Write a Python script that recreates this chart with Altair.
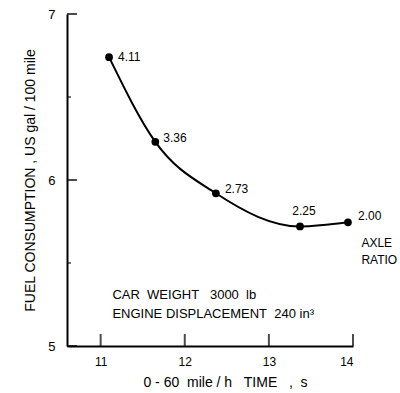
import altair as alt
import pandas as pd

# data
time_s = [11.1, 11.65, 12.37, 13.37, 13.94]
fuel = [6.74, 6.23, 5.92, 5.72, 5.745]
axle_ratio = ["4.11", "3.36", "2.73", "2.25", "2.00"]
label_dx = [9, 8, 9, 4, 10]
label_dy = [0, -4, -4, -15, -6]

x_ticks = [11, 12, 13, 14]
y_ticks = [5, 6, 7]
y_minor = [5.5, 6.5]

NB = "\u00a0"
note_text = ["CAR" + NB * 2 + "WEIGHT" + NB * 3 + "3000" + NB * 2 + "lb",
             "ENGINE DISPLACEMENT" + NB * 2 + "240 in³"]
note_x = [11.14, 11.14]
note_y = [5.31, 5.19]

axle_text = ["AXLE", "RATIO"]
axle_x = [14.1, 14.1]
axle_y = [5.62, 5.52]

x_title = "0 - 60" + NB * 2 + "mile / h" + NB * 3 + "TIME" + NB * 3 + "," + NB * 2 + "s"
y_title = "FUEL CONSUMPTION , US gal / 100 mile"

FONT = "Liberation Sans"
W, H = 286, 332

df = pd.DataFrame({"t": time_s, "f": fuel, "r": axle_ratio})
xs = alt.Scale(domain=[10.6, 14], nice=False, zero=False)
ys = alt.Scale(domain=[5, 7], nice=False, zero=False)

X_AX = alt.Axis(values=x_ticks, format="~g", tickSize=0, labelPadding=10, labelFontSize=12,
                labelFont=FONT, labelColor="black", grid=False, labelOverlap=False,
                domainColor="black", domainWidth=2,
                title=x_title, titleFont=FONT, titleX=158,
                titleFontSize=14, titleFontWeight="normal", titleColor="black",
                titlePadding=8)
Y_AX = alt.Axis(values=y_ticks, format="~g", tickSize=0, labelPadding=12, labelFontSize=13,
                labelFont=FONT, labelColor="black", grid=False, labelOverlap=False,
                domainColor="black", domainWidth=2,
                title=y_title, titleFont=FONT,
                titleFontSize=14, titleFontWeight="normal", titleColor="black",
                titlePadding=10)


def X(f):
    return alt.X(f, scale=xs, axis=X_AX)


def Y(f):
    return alt.Y(f, scale=ys, axis=Y_AX)


base = alt.Chart(df)

line = base.mark_line(color="black", strokeWidth=2, interpolate="monotone").encode(
    x=X("t:Q"), y=Y("f:Q"))

pts = base.mark_circle(color="black", opacity=1, size=60).encode(x=X("t:Q"), y=Y("f:Q"))

labels = []
for i in range(len(time_s)):
    d = df.iloc[[i]]
    labels.append(
        alt.Chart(d).mark_text(align="center" if i == 3 else "left", baseline="middle",
                               dx=label_dx[i], dy=label_dy[i], font=FONT, fontSize=12,
                               color="black").encode(x=X("t:Q"), y=Y("f:Q"), text="r:N")
    )

xt = alt.Chart(pd.DataFrame({"v": x_ticks})).mark_tick(
    color="black", thickness=2, size=12, yOffset=-6, orient="vertical").encode(
    x=X("v:Q"), y=alt.value(H))
yt = alt.Chart(pd.DataFrame({"v": y_ticks})).mark_tick(
    color="black", thickness=2, size=10, xOffset=5, orient="horizontal").encode(
    y=Y("v:Q"), x=alt.value(0))
ym = alt.Chart(pd.DataFrame({"v": y_minor})).mark_tick(
    color="black", thickness=1.5, size=4, xOffset=2, orient="horizontal").encode(
    y=Y("v:Q"), x=alt.value(0))

notes = alt.Chart(pd.DataFrame({"x": note_x, "y": note_y, "s": note_text})).mark_text(
    align="left", baseline="middle", font=FONT, fontSize=13, color="black").encode(
    x=X("x:Q"), y=Y("y:Q"), text="s:N")
axle = alt.Chart(pd.DataFrame({"x": axle_x, "y": axle_y, "s": axle_text})).mark_text(
    align="left", baseline="middle", font=FONT, fontSize=12, color="black").encode(
    x=X("x:Q"), y=Y("y:Q"), text="s:N")

chart = alt.layer(line, pts, *labels, xt, yt, ym, notes, axle).properties(
    width=W, height=H,
    background="white",
    autosize=alt.AutoSizeParams(type="none"),
    padding={"left": 67, "top": 14, "right": 47, "bottom": 47},
).configure_view(stroke=None)

chart.save("out.html", embed_options={"renderer": "svg", "actions": False})
